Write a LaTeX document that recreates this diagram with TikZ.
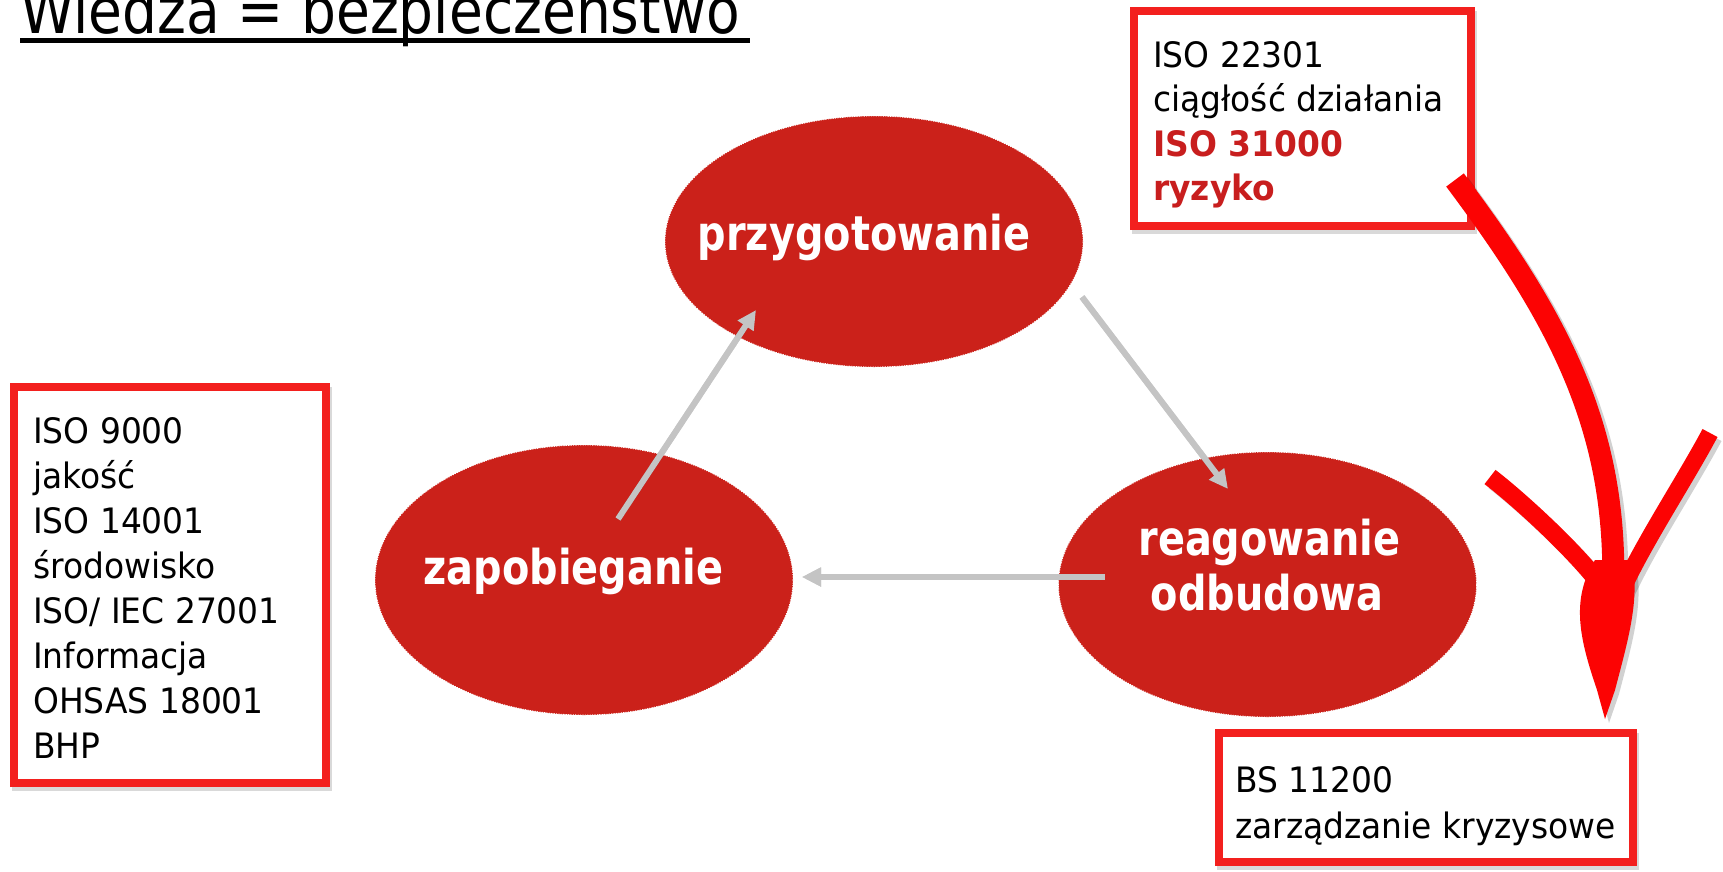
\documentclass[tikz,border=0pt]{standalone}
\usepackage{fontspec}
\setmainfont{DejaVu Sans}
\newfontfamily\boxfont[FakeStretch=0.94]{DejaVu Sans}
\newfontfamily\ellfont[FakeStretch=0.83]{DejaVu Sans Bold}
\newfontfamily\titlefont[FakeStretch=0.86]{DejaVu Sans}
\usetikzlibrary{shapes.geometric,arrows.meta}
\definecolor{ellred}{RGB}{203,33,26}
\definecolor{boxred}{RGB}{243,32,30}
\definecolor{bigred}{RGB}{252,3,3}
\definecolor{txtred}{RGB}{200,30,30}
\definecolor{arrgray}{RGB}{196,196,196}
\begin{document}
\begin{tikzpicture}[x=1pt,y=-1pt,
  phase/.style={ellipse, fill=ellred, draw=white, line width=0.8pt,
    dash pattern=on 1.2pt off 1.2pt, inner sep=0pt, minimum width=418pt, minimum height=#1},
  phaselabel/.style={text=white, font=\ellfont\fontsize{48}{55}\selectfont, inner sep=0pt, anchor=base},
  flow/.style={draw=arrgray, line width=6pt, -{Triangle[length=19pt,width=18pt]}},
  flowshadow/.style={draw=black, opacity=0.18, line width=6pt, -{Triangle[length=19pt,width=18pt]}},
  stdbox/.style={draw=boxred, line width=8pt, inner sep=0pt, fill=white},
  boxshadow/.style={draw=black, opacity=0.15, line width=8pt, inner sep=0pt},
  boxtext/.style={font=\boxfont\fontsize{35}{45}\selectfont, inner sep=0pt, anchor=base west, text=black},
  bigstroke/.style={line cap=butt},
]
\useasboundingbox (0,0) rectangle (1723,871);
\fill[white] (0,0) rectangle (1723,871);

% title
\node[font=\titlefont\fontsize{64}{70}\selectfont, inner sep=0pt, anchor=base west] (title) at (20,33) {Wiedza = bezpieczeństwo};
\draw[line width=4.5pt] (20,40.5) -- (750,40.5);

% phases
\node[phase=251] (prz) at (874,241.5) {};
\node[phase=270] (zap) at (584,580) {};
\node[phase=265] (rea) at (1267.5,584.5) {};
\node[phaselabel] (przt) at (864,250) {przygotowanie};
\node[phaselabel] (zapt) at (573.5,584) {zapobieganie};
\node[phaselabel] (reat) at (1269.5,555) {reagowanie};
\node[phaselabel] (odbt) at (1267,610) {odbudowa};

% grey flow arrows
\coordinate (f1s) at (618,519); \coordinate (f1e) at (756,310);
\coordinate (f2s) at (1082,297); \coordinate (f2e) at (1228,489);
\coordinate (f3s) at (1105,577); \coordinate (f3e) at (802,577);
\begin{scope}[shift={(1.5,2.5)}]
  \draw[flowshadow] (f1s) -- (f1e);
  \draw[flowshadow] (f2s) -- (f2e);
  \draw[flowshadow] (f3s) -- (f3e);
\end{scope}
\draw[flow] (f1s) -- (f1e);
\draw[flow] (f2s) -- (f2e);
\draw[flow] (f3s) -- (f3e);

% boxes
\begin{scope}[shift={(2,4)}]
  \node[boxshadow, minimum width=312pt, minimum height=396pt] at (170,585) {};
  \node[boxshadow, minimum width=337pt, minimum height=215pt] at (1302.5,118.5) {};
  \node[boxshadow, minimum width=414pt, minimum height=129pt] at (1426,797.5) {};
\end{scope}
\node[stdbox, minimum width=312pt, minimum height=396pt] (lbox) at (170,585) {};
\node[stdbox, minimum width=337pt, minimum height=215pt] (tbox) at (1302.5,118.5) {};
\node[stdbox, minimum width=414pt, minimum height=129pt] (bbox) at (1426,797.5) {};

\node[boxtext] (ltext) at (33,443) {\vtop{\hbox{ISO 9000}\hbox{jakość}\hbox{ISO 14001}\hbox{środowisko}\hbox{ISO/ IEC 27001}\hbox{Informacja}\hbox{OHSAS 18001}\hbox{BHP}}};
\node[boxtext, font=\boxfont\fontsize{35}{44.5}\selectfont] (ttext) at (1153,67) {\vtop{\hbox{ISO 22301}\hbox{ciągłość działania}\hbox{\bfseries\color{txtred}ISO 31000}\hbox{\bfseries\color{txtred}ryzyko}}};
\node[boxtext, font=\boxfont\fontsize{35}{46}\selectfont] (btext) at (1235,792) {\vtop{\hbox{BS 11200}\hbox{zarządzanie kryzysowe}}};

% big red arrow
\foreach \dd/\cc/\oo in {4/black/0.18, 0/bigred/1} {
  \begin{scope}[shift={(\dd,\dd)}, opacity=\oo]
    \draw[bigstroke, draw=\cc, line width=22pt] (1455,180) .. controls (1560,320) and (1618,430) .. (1613,592);
    \draw[bigstroke, draw=\cc, line width=18pt] (1490,477) .. controls (1520,500) and (1580,555) .. (1606,592);
    \draw[bigstroke, draw=\cc, line width=17pt] (1710,433) .. controls (1685,480) and (1645,540) .. (1621,592);
    \fill[\cc] (1595,560) .. controls (1570,600) and (1580,640) .. (1597,690) -- (1605,719) -- (1615,690) .. controls (1628,640) and (1640,600) .. (1632,560) -- cycle;
  \end{scope}
}
\end{tikzpicture}
\end{document}
